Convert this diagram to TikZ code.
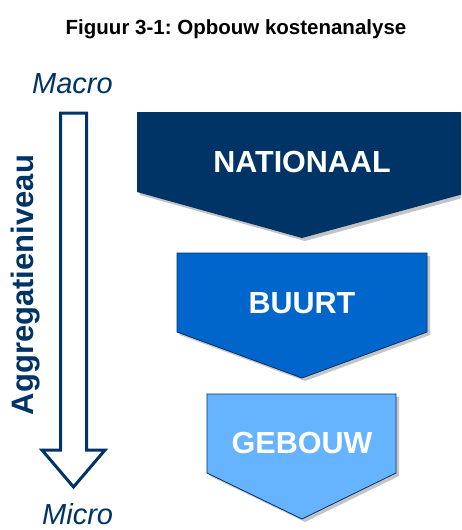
\documentclass[tikz,border=0pt]{standalone}
\usepackage{fontspec}
\setmainfont{Liberation Sans}
\usepackage{xcolor}
\usepackage{tikz}
\definecolor{navy_blue}{HTML}{003366}
\definecolor{mid_blue}{HTML}{0066CC}
\definecolor{light_blue}{HTML}{66B3FF}
\definecolor{shadow_gray}{HTML}{C4C4C4}
\frenchspacing

\begin{document}
\begin{tikzpicture}[x=1pt, y=-1pt, every node/.style={inner sep=0pt},
    level/.style={font=\bfseries\fontsize{30.5}{30.5}\selectfont, text=white, anchor=base},
    side/.style={font=\itshape\fontsize{29}{29}\selectfont, text=navy_blue, anchor=base west}]

    \useasboundingbox (0,0) rectangle (461,530);
    \clip (0,0) rectangle (461,530);

    \node[anchor=base] (title) at (236,34) {\bfseries\fontsize{20.5}{20.5}\selectfont Figuur 3-1: Opbouw kostenanalyse};

    % Left side: direction of aggregation, from macro down to micro.
    \node[side] (macro) at (32,93) {Macro};
    \node[side] (micro) at (42,524.5) {Micro};

    \draw[navy_blue, line width=3pt, line join=miter]
      (60.5,113) -- (86.5,113) -- (86.5,450) -- (105,450) -- (73.5,487)
      -- (42,450) -- (60.5,450) -- cycle;

    \node[rotate=90, anchor=base, text=navy_blue,
      font=\bfseries\fontsize{31}{31}\selectfont] (niveau) at (33,285) {Aggregatieniveau};

    % Right side: the three levels as pentagons with a small shadow.
    \fill[shadow_gray] (140,115) -- (470,115) -- (470,196) -- (305,241) -- (140,195) -- cycle;
    \fill[navy_blue] (137,112) -- (467,112) -- (467,193) -- (302,238) -- (137,192) -- cycle;
    \node[level] (nationaal) at (302,172) {NATIONAAL};

    \fill[shadow_gray] (180,256) -- (430,256) -- (430,335) -- (305,381) -- (180,335) -- cycle;
    \filldraw[fill=mid_blue, draw=navy_blue, thick] (177,253) -- (427,253) -- (427,332) -- (302,378) -- (177,332) -- cycle;
    \node[level] (buurt) at (302,313) {BUURT};

    \fill[shadow_gray] (210,397) -- (399,397) -- (399,476) -- (305,522) -- (210,476) -- cycle;
    \filldraw[fill=light_blue, draw=navy_blue, thick] (207,394) -- (396,394) -- (396,473) -- (302,519) -- (207,473) -- cycle;
    \node[level] (gebouw) at (302,453) {GEBOUW};

\end{tikzpicture}
\end{document}
